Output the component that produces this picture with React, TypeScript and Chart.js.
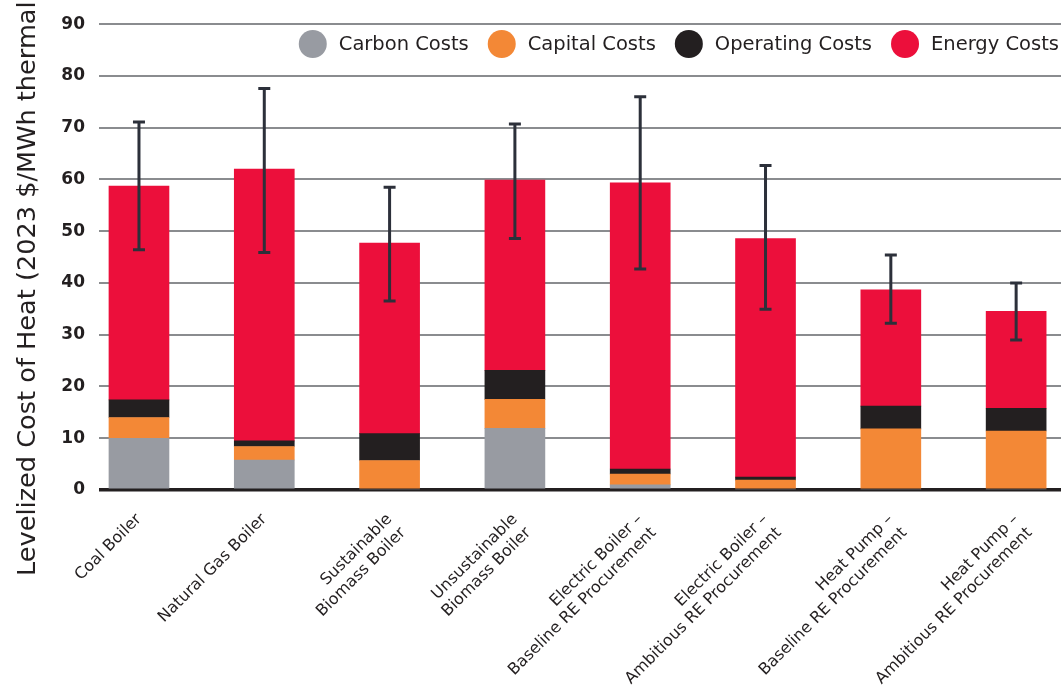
import React, { useEffect, useRef } from 'react';
import { Chart, registerables } from 'chart.js';

Chart.register(...registerables);

const categories: (string | string[])[] = [
  'Coal Boiler',
  'Natural Gas Boiler',
  ['Sustainable', 'Biomass Boiler'],
  ['Unsustainable', 'Biomass Boiler'],
  ['Electric Boiler –', 'Baseline RE Procurement'],
  ['Electric Boiler –', 'Ambitious RE Procurement'],
  ['Heat Pump –', 'Baseline RE Procurement'],
  ['Heat Pump –', 'Ambitious RE Procurement'],
];

const carbonCosts = [10, 5.8, 0, 11.9, 1.0, 0, 0, 0];
const capitalCosts = [4, 2.6, 5.7, 5.6, 2.1, 1.9, 11.8, 11.4];
const operatingCosts = [3.4, 1.1, 5.2, 5.6, 0.95, 0.6, 4.4, 4.4];
const energyCosts = [41.3, 52.5, 36.8, 36.8, 55.3, 46.1, 22.5, 18.7];

const errorLow = [46.4, 45.9, 36.5, 48.6, 42.7, 34.9, 32.2, 29.0];
const errorHigh = [71.1, 77.6, 58.5, 70.7, 76.0, 62.7, 45.4, 40.0];

const yTicks = [0, 10, 20, 30, 40, 50, 60, 70, 80, 90];
const yTitle = 'Levelized Cost of Heat (2023 $/MWh thermal)';

const seriesNames = ['Carbon Costs', 'Capital Costs', 'Operating Costs', 'Energy Costs'];
const seriesColors = ['#989ba2', '#f38836', '#231f20', '#ec0f3b'];

const TEXT = '#231f20';
const FONT = "'DejaVu Sans', sans-serif";

const errorBarPlugin = {
  id: 'errorBars',
  afterDatasetsDraw(chart: any) {
    const { ctx, scales } = chart;
    const xs = scales.x;
    const ys = scales.y;
    ctx.save();
    ctx.strokeStyle = '#2c303a';
    ctx.lineWidth = 3;
    ctx.lineCap = 'butt';
    categories.forEach((_, i) => {
      const x = xs.getPixelForValue(i);
      const yl = ys.getPixelForValue(errorLow[i]);
      const yh = ys.getPixelForValue(errorHigh[i]);
      ctx.beginPath();
      ctx.moveTo(x, yl);
      ctx.lineTo(x, yh);
      ctx.moveTo(x - 6, yl);
      ctx.lineTo(x + 6, yl);
      ctx.moveTo(x - 6, yh);
      ctx.lineTo(x + 6, yh);
      ctx.stroke();
    });
    ctx.restore();
  },
};

const legendPlugin = {
  id: 'customLegend',
  afterDraw(chart: any) {
    const { ctx } = chart;
    const ds = chart.data.datasets;
    ctx.save();
    ctx.font = `19.5px ${FONT}`;
    const r = 14;
    const gapText = 12;
    const gapItem = 19;
    const widths = ds.map((d: any) => ctx.measureText(d.label).width);
    let total = 0;
    widths.forEach((w: number, i: number) => {
      total += 2 * r + gapText + w + (i < widths.length - 1 ? gapItem : 0);
    });
    let x = 1059 - total;
    const cy = 44;
    ds.forEach((d: any, i: number) => {
      ctx.beginPath();
      ctx.fillStyle = d.backgroundColor;
      ctx.arc(x + r, cy, r, 0, Math.PI * 2);
      ctx.fill();
      ctx.fillStyle = TEXT;
      ctx.textAlign = 'left';
      ctx.textBaseline = 'middle';
      ctx.fillText(d.label, x + 2 * r + gapText, cy + 1);
      x += 2 * r + gapText + widths[i] + gapItem;
    });
    ctx.restore();
  },
};

const yTitlePlugin = {
  id: 'yTitle',
  afterDraw(chart: any) {
    const { ctx } = chart;
    ctx.save();
    ctx.translate(28, 576);
    ctx.rotate(-Math.PI / 2);
    ctx.font = `25.6px ${FONT}`;
    ctx.fillStyle = TEXT;
    ctx.textAlign = 'left';
    ctx.textBaseline = 'middle';
    ctx.fillText(yTitle, 0, 0);
    ctx.restore();
  },
};

export default function App() {
  const ref = useRef<HTMLCanvasElement | null>(null);

  useEffect(() => {
    if (!ref.current) return;
    const series = [carbonCosts, capitalCosts, operatingCosts, energyCosts];
    const chart = new Chart(ref.current, {
      type: 'bar',
      data: {
        datasets: series.map((vals, si) => ({
          label: seriesNames[si],
          data: vals.map((v, i) => ({ x: i, y: v })),
          backgroundColor: seriesColors[si],
          borderWidth: 0,
          barThickness: 60,
        })),
      },
      options: {
        responsive: false,
        animation: false,
        devicePixelRatio: 1,
        layout: { padding: { top: 19, left: 0, right: 0, bottom: 0 } },
        plugins: {
          legend: { display: false },
          tooltip: { enabled: false },
        },
        scales: {
          x: {
            type: 'linear',
            stacked: true,
            offset: false,
            min: -0.319,
            max: 7.358,
            grid: { display: false },
            border: { display: false },
            afterBuildTicks: (s: any) => {
              s.ticks = categories.map((_, i) => ({ value: i }));
            },
            afterFit: (s: any) => {
              s.height = 204;
            },
            ticks: {
              autoSkip: false,
              minRotation: 45,
              maxRotation: 45,
              padding: 12,
              color: TEXT,
              font: { family: FONT, size: 16 },
              callback: (v: any) => categories[v as number] ?? '',
            },
          },
          y: {
            stacked: true,
            min: 0,
            max: 90,
            afterBuildTicks: (s: any) => {
              s.ticks = yTicks.map((v) => ({ value: v }));
            },
            afterFit: (s: any) => {
              s.width = 99;
            },
            grid: {
              drawTicks: false,
              color: (c: any) => (c.tick && c.tick.value === 0 ? TEXT : '#8a8c8f'),
              lineWidth: (c: any) => (c.tick && c.tick.value === 0 ? 3.5 : 2),
            },
            border: { display: false },
            ticks: {
              padding: 14,
              color: TEXT,
              font: { family: FONT, size: 17, weight: 'bold' },
            },
          },
        },
      },
      plugins: [errorBarPlugin, legendPlugin, yTitlePlugin],
    } as any);
    return () => chart.destroy();
  }, []);

  return (
    <div style={{ position: 'absolute', left: 0, top: 0, width: 1061, height: 694, background: '#fff' }}>
      <canvas ref={ref} width={1061} height={694} />
    </div>
  );
}
